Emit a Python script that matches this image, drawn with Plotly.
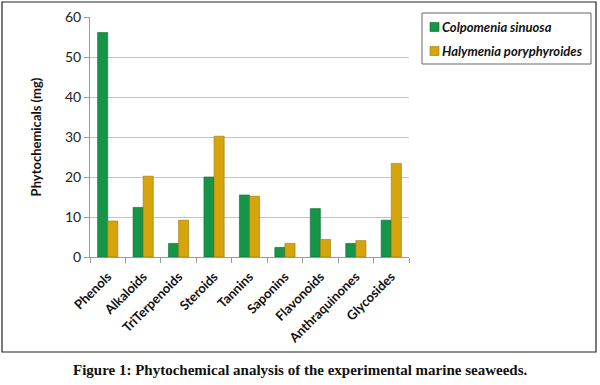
import plotly.graph_objects as go

categories = ["Phenols", "Alkaloids", "TriTerpenoids", "Steroids", "Tannins",
              "Saponins", "Flavonoids", "Anthraquinones", "Glycosides"]
colpomenia = [56.1, 12.4, 3.4, 20.0, 15.5, 2.4, 12.1, 3.4, 9.2]
halymenia = [9.0, 20.2, 9.2, 30.2, 15.2, 3.4, 4.4, 4.1, 23.4]
series_names = ["Colpomenia sinuosa", "Halymenia poryphyroides"]
y_ticks = [0, 10, 20, 30, 40, 50, 60]

colors = ["#169447", "#d6a40c"]
edge_colors = ["#0b6a30", "#9a7606"]

W, H = 600, 385
L, R, T, B = 90, 409, 17, 257

def px(x):
    return (x - L) / (R - L)

def py(y):
    return (B - y) / (B - T)

fig = go.Figure()
for name, vals, c, ec in zip(series_names, [colpomenia, halymenia], colors, edge_colors):
    fig.add_trace(go.Bar(x=categories, y=vals, name=name, showlegend=False,
                         marker=dict(color=c, line=dict(color=ec, width=0.6))))

shapes = [
    dict(type="rect", xref="paper", yref="paper",
         x0=px(2), x1=px(596), y0=py(2), y1=py(352),
         line=dict(color="#222", width=1.2), layer="below"),
    dict(type="rect", xref="paper", yref="paper",
         x0=px(422), x1=px(591), y0=py(13), y1=py(64),
         line=dict(color="#666", width=1), fillcolor="white"),
]
annotations = [
    dict(text="<b>Figure 1: Phytochemical analysis of the experimental marine seaweeds.</b>",
         xref="paper", yref="paper", x=px(300), y=py(370),
         xanchor="center", yanchor="middle", showarrow=False,
         font=dict(family="Liberation Serif, Times New Roman, serif", size=15, color="#111")),
]
for i, (name, c, ec) in enumerate(zip(series_names, colors, edge_colors)):
    yc = 27 + 24 * i
    shapes.append(dict(type="rect", xref="paper", yref="paper",
                       x0=px(430), x1=px(439), y0=py(yc - 4.5), y1=py(yc + 4.5),
                       fillcolor=c, line=dict(color=ec, width=0.6)))
    annotations.append(dict(text=name, xref="paper", yref="paper",
                            x=px(440), y=py(yc), xanchor="left", yanchor="middle",
                            showarrow=False,
                            font=dict(family="Lato, Open Sans, sans-serif", size=13,
                                      style="italic", weight="bold", color="#111")))

fig.update_layout(
    width=W, height=H,
    margin=dict(l=L, r=W - R, t=T, b=H - B, autoexpand=False),
    paper_bgcolor="white", plot_bgcolor="white",
    barmode="group", bargap=0.43, bargroupgap=0,
    font=dict(family="Lato, Open Sans, sans-serif", color="#222"),
    showlegend=False,
    xaxis=dict(showline=True, linecolor="#999", linewidth=1,
               ticks="outside", tickson="boundaries", ticklen=5, tickcolor="#999",
               tickangle=-45, ticklabelstandoff=6,
               tickfont=dict(size=13, weight="bold", color="#111"),
               showgrid=False),
    yaxis=dict(range=[0, 60], tickvals=y_ticks, showline=True, linecolor="#999",
               linewidth=1, ticks="outside", ticklen=5, tickcolor="#999",
               gridcolor="#c4c4c4", gridwidth=1, zeroline=False,
               tickfont=dict(size=14, color="#222"),
               title=dict(text="Phytochemicals (mg)", standoff=20,
                          font=dict(size=13, weight="bold", color="#111"))),
    shapes=shapes,
    annotations=annotations,
)

fig.write_html("out.html", config={"displayModeBar": False},
               post_script="document.body.style.margin='0';")
